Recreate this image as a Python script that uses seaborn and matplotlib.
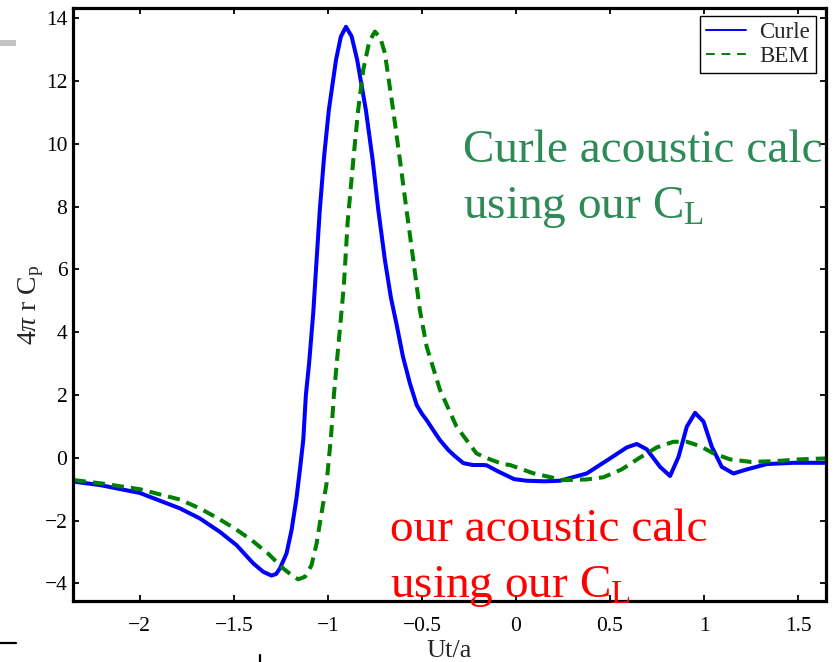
import matplotlib
matplotlib.use("Agg")
import matplotlib.pyplot as plt
from matplotlib.lines import Line2D
from matplotlib.patches import Rectangle
import pandas as pd
import seaborn as sns

# Non-dimensional time Ut/a and scaled acoustic pressure 4*pi*r*Cp
curle_t = [-2.35, -2.21, -2.00, -1.787, -1.681, -1.574, -1.486, -1.397, -1.344,
           -1.300, -1.275, -1.255, -1.220, -1.193, -1.167, -1.149, -1.131, -1.117,
           -1.100, -1.078, -1.060, -1.043, -1.020, -0.995, -0.957, -0.931, -0.904,
           -0.874, -0.844, -0.798, -0.762, -0.732, -0.697, -0.665, -0.635, -0.601,
           -0.564, -0.528, -0.500, -0.475, -0.440, -0.404, -0.360, -0.330, -0.280,
           -0.230, -0.176, -0.156, -0.100, -0.010, 0.056, 0.150, 0.234, 0.376,
           0.500, 0.589, 0.642, 0.695, 0.766, 0.819, 0.864, 0.908, 0.952, 0.997,
           1.041, 1.094, 1.156, 1.227, 1.334, 1.475, 1.650]
curle_p = [-0.76, -0.87, -1.12, -1.61, -1.93, -2.36, -2.78, -3.36, -3.63,
           -3.75, -3.70, -3.52, -3.05, -2.30, -1.29, -0.39, 0.56, 2.00,
           3.00, 4.60, 6.30, 7.89, 9.60, 11.07, 12.66, 13.41, 13.72,
           13.42, 12.66, 11.07, 9.48, 7.89, 6.30, 5.10, 4.25, 3.22,
           2.37, 1.68, 1.40, 1.20, 0.88, 0.56, 0.25, 0.08, -0.17,
           -0.23, -0.23, -0.24, -0.42, -0.68, -0.73, -0.75, -0.73, -0.50,
           -0.02, 0.33, 0.44, 0.27, -0.29, -0.58, 0.03, 0.99, 1.43, 1.15,
           0.35, -0.29, -0.50, -0.37, -0.20, -0.16, -0.16]

bem_t = [-2.35, -2.20, -2.00, -1.787, -1.681, -1.584, -1.495, -1.406, -1.318,
         -1.238, -1.190, -1.158, -1.122, -1.087, -1.060, -1.034, -1.007, -0.995,
         -0.983, -0.968, -0.950, -0.933, -0.915, -0.895, -0.865, -0.839, -0.812,
         -0.780, -0.750, -0.720, -0.697, -0.653, -0.617, -0.582, -0.546, -0.511,
         -0.475, -0.404, -0.316, -0.280, -0.210, -0.156, -0.070, -0.032, 0.090,
         0.250, 0.376, 0.465, 0.562, 0.660, 0.748, 0.837, 0.908, 0.979, 1.050,
         1.138, 1.245, 1.369, 1.511, 1.650]
bem_p = [-0.71, -0.82, -1.00, -1.33, -1.61, -1.93, -2.25, -2.62, -3.05,
         -3.52, -3.75, -3.87, -3.79, -3.42, -2.73, -1.77, -0.82, -0.05,
         0.70, 2.00, 3.20, 4.30, 5.50, 7.50, 9.48, 11.07, 12.35,
         13.25, 13.57, 13.35, 12.88, 11.07, 9.48, 7.89, 6.30, 4.70,
         3.54, 2.16, 0.99, 0.70, 0.14, -0.01, -0.20, -0.23, -0.49,
         -0.71, -0.69, -0.62, -0.37, 0.01, 0.33, 0.51, 0.51, 0.37, 0.14,
         -0.05, -0.13, -0.11, -0.05, -0.02]

series_labels = ["Curle", "BEM"]
series_colors = ["#0000ff", "#008000"]

x_ticks = [-2, -1.5, -1, -0.5, 0, 0.5, 1, 1.5]
x_tick_labels = ["\u22122", "\u22121.5", "\u22121", "\u22120.5", "0", "0.5", "1", "1.5"]
y_ticks = [-4, -2, 0, 2, 4, 6, 8, 10, 12, 14]
y_tick_labels = ["\u22124", "\u22122", "0", "2", "4", "6", "8", "10", "12", "14"]

note_upper = "Curle acoustic calc\nusing our C$_\\mathrm{L}$"
note_lower = "our acoustic calc\nusing our C$_\\mathrm{L}$"

curle_df = pd.DataFrame({"t": curle_t, "p": curle_p})
bem_df = pd.DataFrame({"t": bem_t, "p": bem_p})

sns.set_style("ticks")
plt.rcParams["font.family"] = ["Liberation Serif", "DejaVu Serif"]
plt.rcParams["mathtext.fontset"] = "custom"
plt.rcParams["mathtext.rm"] = "Liberation Serif"
plt.rcParams["mathtext.it"] = "Liberation Serif:italic"

fig = plt.figure(figsize=(8.34, 6.62), dpi=100)
ax = fig.add_axes([73 / 834, 1 - 601 / 662, 753 / 834, 593 / 662])

sns.lineplot(data=curle_df, x="t", y="p", ax=ax, color=series_colors[0],
             lw=2.9, sort=False, estimator=None, legend=False)
sns.lineplot(data=bem_df, x="t", y="p", ax=ax, color=series_colors[1],
             lw=2.9, sort=False, estimator=None, legend=False)
ax.lines[0].set_solid_joinstyle("round")
ax.lines[1].set_linestyle((0, (3.0, 1.75)))

ax.set_xlim(-2.355, 1.648)
ax.set_ylim(-4.56, 14.32)
ax.set_xticks(x_ticks, x_tick_labels)
ax.set_yticks(y_ticks, y_tick_labels)
ax.tick_params(direction="in", top=True, right=True, length=4.5, width=1.3,
               labelsize=15.5, colors="black")
ax.tick_params(axis="x", pad=11.5)
ax.tick_params(axis="y", pad=4)
for spine in ax.spines.values():
    spine.set_linewidth(2.3)
    spine.set_color("black")

ax.set_xlabel("Ut/a", fontsize=19, labelpad=3)
ax.set_ylabel("4$\\pi$ r C$_\\mathrm{p}$", fontsize=20, labelpad=-1)

handles = [
    Line2D([], [], color=series_colors[0], lw=1.4),
    Line2D([], [], color=series_colors[1], lw=1.4, linestyle=(0, (4.5, 3.5))),
]
ax.legend(handles, series_labels, loc="upper right",
          bbox_to_anchor=(1 - 10 / 753, 1 - 8 / 593), borderaxespad=0,
          fontsize=16.5, frameon=True, fancybox=False, framealpha=1,
          edgecolor="black", handlelength=1.75, handletextpad=0.55,
          labelspacing=0.1, borderpad=0.28)
ax.get_legend().get_frame().set_linewidth(1.0)

# baseline anchors refer to the second line of each note
ax.text(-0.282, 7.63, note_upper, color="#2e8b57", fontsize=34,
        va="baseline", ha="left", linespacing=1.4, clip_on=True)
ax.text(-0.670, -4.43, note_lower, color="#ff0000", fontsize=34,
        va="baseline", ha="left", linespacing=1.4)

# small slide-crop marks along the left and bottom edges
fig.add_artist(Rectangle((0, 1 - 46 / 662), 16 / 834, 6 / 662,
                         transform=fig.transFigure, color="#c4c4c4", lw=0))
fig.add_artist(Line2D([0, 16 / 834], [1 - 643 / 662, 1 - 643 / 662],
                      transform=fig.transFigure, color="black", lw=1.6))
fig.add_artist(Line2D([260 / 834, 260 / 834], [0, 7 / 662],
                      transform=fig.transFigure, color="black", lw=1.6))

fig.savefig("out.png", dpi=100)
